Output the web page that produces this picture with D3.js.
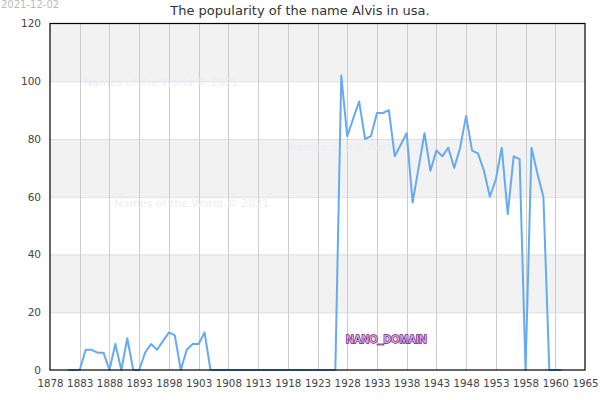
<!DOCTYPE html>
<html><head><meta charset="utf-8">
<script src="https://cdn.jsdelivr.net/npm/d3@7"></script>
<style>body{margin:0;background:#fff;}svg{display:block;font-family:"DejaVu Sans",sans-serif;}</style>
</head><body><svg id="c" width="600" height="400"></svg>
<script>
const years = [1881,1882,1883,1884,1885,1886,1887,1888,1889,1890,1891,1892,1893,1894,1895,1896,1897,1898,1899,1900,1901,1902,1903,1904,1905,1906,1907,1908,1909,1910,1911,1912,1913,1914,1915,1916,1917,1918,1919,1920,1921,1922,1923,1924,1925,1926,1927,1928,1929,1930,1931,1932,1933,1934,1935,1936,1937,1938,1939,1940,1941,1942,1943,1944,1945,1946,1947,1948,1949,1950,1951,1952,1953,1954,1955,1956,1957,1958,1959,1960,1961,1962,1963,1964];
const counts = [0,0,0,7,7,6,6,0,9,0,11,0,0,6,9,7,10,13,12,0,7,9,9,13,0,0,0,0,0,0,0,0,0,0,0,0,0,0,0,0,0,0,0,0,0,0,102,81,87,93,80,81,89,89,90,74,78,82,58,70,82,69,76,74,77,70,77,88,76,75,69,60,66,77,54,74,73,0,77,68,60,0,0,0];
const xTickValues = [1878,1883,1888,1893,1898,1903,1908,1913,1918,1923,1928,1933,1938,1943,1948,1953,1958,1963,1968];
const xTickLabels = ["1878","1883","1888","1893","1898","1903","1908","1913","1918","1923","1928","1933","1938","1943","1948","1953","1958","1960","1965"];
const yTickValues = [0,20,40,60,80,100,120];
const titleText = "The popularity of the name Alvis in usa.";
const dateText = "2021-12-02";
const watermarkText = "Names of the World © 2021";
const domainText = "NANO_DOMAIN";

const svg = d3.select("#c");
const L = 50, R = 585, T = 23.5, B = 370;
const x = d3.scaleLinear().domain([1878,1968]).range([L,R]);
const y = d3.scaleLinear().domain([0,120]).range([B,T]);

// bands
const bands = [[100,120],[60,80],[20,40]];
svg.selectAll("rect.band").data(bands).enter().append("rect")
  .attr("x",L).attr("width",R-L)
  .attr("y",d=>y(d[1])).attr("height",d=>y(d[0])-y(d[1]))
  .attr("fill","#f2f2f2");

// horizontal grid
svg.append("g").selectAll("line").data(yTickValues.slice(1,-1)).enter().append("line")
  .attr("x1",L).attr("x2",R).attr("y1",d=>y(d)+0.5).attr("y2",d=>y(d)+0.5)
  .attr("stroke","#dddddd").attr("stroke-width",1);
// vertical grid
svg.append("g").selectAll("line").data(xTickValues.slice(1,-1)).enter().append("line")
  .attr("x1",d=>Math.round(x(d))+0.5).attr("x2",d=>Math.round(x(d))+0.5).attr("y1",T).attr("y2",B)
  .attr("stroke","#cccccc").attr("stroke-width",1);

// watermarks
const wm = [[1883.7,98.5],[1918.2,76],[1888.8,56.5]];
svg.selectAll("text.wm").data(wm).enter().append("text")
  .attr("x",d=>x(d[0])).attr("y",d=>y(d[1]))
  .attr("font-size",11).attr("fill","#ececf8").text(watermarkText);

// line
const line = d3.line().x((d,i)=>x(years[i])).y(d=>y(d));
svg.append("path").datum(counts).attr("d",line)
  .attr("fill","none").attr("stroke","#66aaf0").attr("stroke-width",2)
  .attr("stroke-linejoin","round");

// frame
svg.append("rect").attr("x",L).attr("y",T).attr("width",R-L).attr("height",B-T)
  .attr("fill","none").attr("stroke","#000").attr("stroke-width",1.2);

// axes
const xa = d3.axisBottom(x).tickValues(xTickValues).tickFormat((d,i)=>xTickLabels[i]).tickSize(0).tickPadding(9.5);
svg.append("g").attr("transform",`translate(0,${B})`).call(xa)
  .call(g=>g.select(".domain").remove())
  .selectAll("text").attr("font-size",10.3).attr("fill","#444").attr("font-family","DejaVu Sans");
const ya = d3.axisLeft(y).tickValues(yTickValues).tickSize(0).tickPadding(9);
svg.append("g").attr("transform",`translate(${L},0)`).call(ya)
  .call(g=>g.select(".domain").remove())
  .selectAll("text").attr("font-size",10.5).attr("fill","#444").attr("font-family","DejaVu Sans");

// title
svg.append("text").attr("x",300).attr("y",15).attr("text-anchor","middle")
  .attr("font-size",13).attr("fill","#333").text(titleText);
svg.append("text").attr("x",1).attr("y",8).attr("font-size",10).attr("fill","#bbb").text(dateText);

// domain label
svg.append("text").attr("x",346).attr("y",343.3).attr("font-size",10.7)
  .attr("font-family","Liberation Sans").attr("font-weight","bold")
  .attr("fill","#d9a6e0").attr("stroke","#6a1a70").attr("stroke-width",1.3).attr("paint-order","stroke")
  .text(domainText);
</script></body></html>
